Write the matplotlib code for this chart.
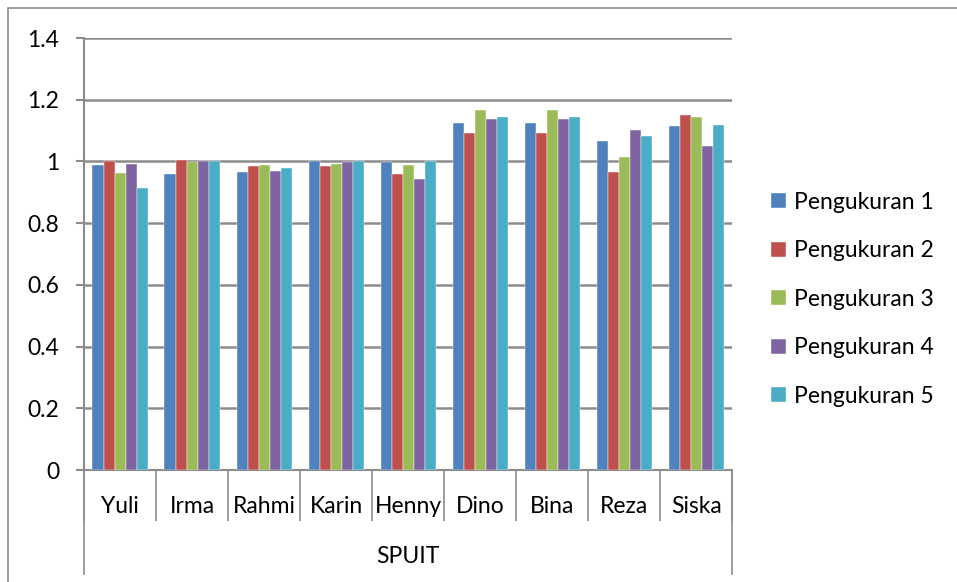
import numpy as np
import matplotlib.pyplot as plt
from matplotlib.lines import Line2D
from matplotlib.patches import Rectangle

plt.rcParams['font.family'] = ['Lato', 'DejaVu Sans']

names = ["Yuli", "Irma", "Rahmi", "Karin", "Henny", "Dino", "Bina", "Reza", "Siska"]
series = ["Pengukuran 1", "Pengukuran 2", "Pengukuran 3", "Pengukuran 4", "Pengukuran 5"]
p1 = [0.990, 0.959, 0.967, 1.000, 0.999, 1.123, 1.123, 1.067, 1.116]
p2 = [1.000, 1.006, 0.984, 0.986, 0.958, 1.092, 1.092, 0.967, 1.150]
p3 = [0.964, 0.998, 0.987, 0.992, 0.989, 1.168, 1.168, 1.015, 1.145]
p4 = [0.992, 1.003, 0.970, 0.999, 0.944, 1.137, 1.137, 1.103, 1.051]
p5 = [0.915, 1.003, 0.980, 1.003, 1.000, 1.144, 1.145, 1.083, 1.117]
colors = ["#4F81BD", "#C0504D", "#9BBB59", "#8064A2", "#4BACC6"]

grid_c = "#8c8c8c"
fs = 16.5
fig = plt.figure(figsize=(9.57, 5.82), dpi=100)
ax = fig.add_axes([0.0878, 0.1924, 0.6772, 0.7423])

# outer chart border (left and top edges visible)
fig.patches.append(Rectangle((8 / 957, -0.1), 1.2, 1 - 8 / 582 + 0.1,
                             transform=fig.transFigure, fill=False,
                             ec=grid_c, lw=1.2))

x = np.arange(len(names))
w = 0.153
for i, vals in enumerate([p1, p2, p3, p4, p5]):
    ax.bar(x + (i - 2) * w, vals, w, color=colors[i], label=series[i],
           edgecolor="white", linewidth=0.3, zorder=3)

ax.set_ylim(0, 1.4)
ax.set_xlim(-0.5, len(names) - 0.5)
ax.set_yticks(np.arange(0, 1.41, 0.2))
ax.set_yticklabels(["0", "0.2", "0.4", "0.6", "0.8", "1", "1.2", "1.4"])
ax.yaxis.grid(True, color=grid_c, lw=1.8, zorder=0)
ax.tick_params(axis="y", length=6, width=1.5, color=grid_c, pad=12,
               labelsize=fs)

# category dividers as long major ticks, names as minor ticks
ax.set_xticks(np.arange(-0.5, len(names), 1))
ax.set_xticklabels([])
ax.set_xticks(x, minor=True)
ax.set_xticklabels(names, minor=True)
ax.tick_params(axis="x", which="major", length=37, width=1.2, color=grid_c)
ax.tick_params(axis="x", which="minor", length=0, pad=19, labelsize=fs)

for s in ["top", "right"]:
    ax.spines[s].set_visible(False)
for s in ["left", "bottom"]:
    ax.spines[s].set_color(grid_c)
    ax.spines[s].set_linewidth(1.5)

# outer dividers reaching down to the group label
for xa in (0, 1):
    ax.add_line(Line2D([xa, xa], [0, -0.24], transform=ax.transAxes,
                       color=grid_c, lw=1.2, clip_on=False))
ax.text(0.5, -0.2, "SPUIT", transform=ax.transAxes, ha="center",
        va="center", fontsize=fs)

ax.legend(loc="center left", bbox_to_anchor=(1.028, 0.395), frameon=False,
          fontsize=fs, handlelength=0.65, handleheight=0.65,
          handletextpad=0.35, labelspacing=1.2)

fig.savefig("out.png", dpi=100)
